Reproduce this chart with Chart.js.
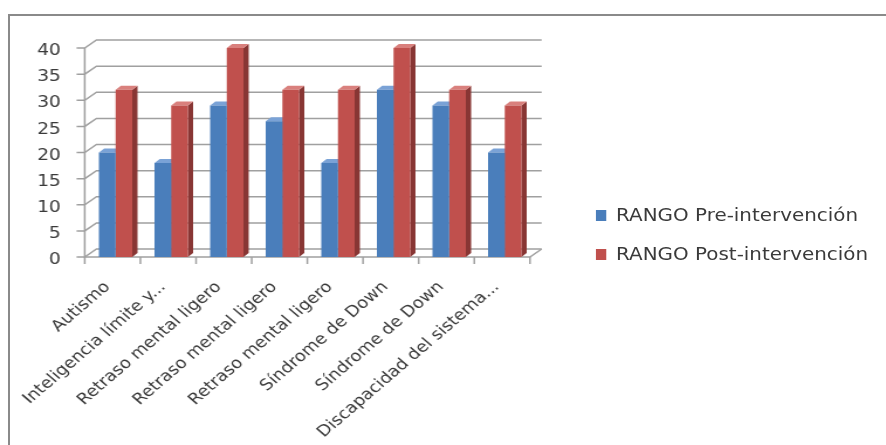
<!DOCTYPE html>
<html>
<head>
<meta charset="utf-8">
<script src="https://cdn.jsdelivr.net/npm/chart.js@4"></script>
<style>
    html, body { margin: 0; padding: 0; background: #fff; overflow: hidden; }
    body { width: 886px; height: 445px; position: relative; }
    .marco {
        position: absolute; left: 8px; top: 14px;
        width: 900px; height: 500px;
        border: 2px solid #8a8a8a;
    }
    /* the reference picture is stretched sideways, so the whole chart is too */
    .lienzo {
        position: absolute; left: 0; top: 0;
        width: 757px; height: 445px;
        transform: scaleX(1.1704); transform-origin: 0 0;
    }
    .leyenda { position: absolute; left: 509px; top: 205px; font: 17px "DejaVu Sans", sans-serif; color: #3a3a3a; }
    .leyenda-item { display: flex; align-items: center; height: 20px; margin-bottom: 19px; white-space: nowrap; }
    .leyenda-item span.caja { display: inline-block; width: 9.4px; height: 11px; margin-right: 8px; }
</style>
</head>
<body>
<div class="marco"></div>
<div class="lienzo">
    <canvas id="grafico" width="757" height="445" style="width:757px;height:445px"></canvas>
    <div class="leyenda" id="leyenda"></div>
</div>
<script>
// Datos
const categorias = ['Autismo', 'Inteligencia límite y...', 'Retraso mental ligero', 'Retraso mental ligero',
    'Retraso mental ligero', 'Síndrome de Down', 'Síndrome de Down', 'Discapacidad del sistema...'];
const preIntervencion = [20, 18, 29, 26, 18, 32, 29, 20];
const postIntervencion = [32, 29, 40, 32, 32, 40, 32, 29];
const ticksY = [0, 5, 10, 15, 20, 25, 30, 35, 40];

const colores = {
    pre: { frente: '#4a7ebb', lado: '#33598a', arriba: '#7aa2d6' },
    post: { frente: '#c0504d', lado: '#883634', arriba: '#d9807d' }
};

// Caras 3D, suelo y rejilla tipo Excel
const prof = { dx: 10, dy: 8 };
const caras3d = {
    id: 'caras3d',
    beforeDatasetsDraw(chart) {
        const ctx = chart.ctx;
        const y = chart.scales.y;
        const area = chart.chartArea;
        const ejeX = area.left - 2.6;
        const frenteDer = ejeX + 380.4;
        const fondoDer = frenteDer + prof.dx;
        ctx.save();
        ctx.strokeStyle = '#a0a0a0';
        ctx.lineWidth = 1.5;
        ticksY.forEach(v => {
            const py = y.getPixelForValue(v);
            ctx.beginPath();
            ctx.moveTo(ejeX - 7, py);
            ctx.lineTo(ejeX, py);
            ctx.lineTo(ejeX + prof.dx, py - prof.dy);
            ctx.lineTo(fondoDer, py - prof.dy);
            ctx.stroke();
        });
        const y0 = y.getPixelForValue(0);
        const yMax = y.getPixelForValue(40);
        ctx.beginPath();
        ctx.moveTo(ejeX, yMax);
        ctx.lineTo(ejeX, y0);
        ctx.lineTo(frenteDer, y0);
        ctx.lineTo(fondoDer, y0 - prof.dy);
        ctx.stroke();
        // marcas de categoria
        const paso = (frenteDer - ejeX) / categorias.length;
        for (let i = 0; i <= categorias.length; i++) {
            ctx.beginPath();
            ctx.moveTo(ejeX + i * paso, y0);
            ctx.lineTo(ejeX + i * paso, y0 + 7);
            ctx.stroke();
        }

        const d = 4.5, dv = 4;
        chart.data.datasets.forEach((ds, i) => {
            const meta = chart.getDatasetMeta(i);
            const c = i === 0 ? colores.pre : colores.post;
            meta.data.forEach(bar => {
                const p = bar.getProps(['x', 'y', 'base', 'width'], true);
                const izq = p.x - p.width / 2, der = p.x + p.width / 2;
                ctx.fillStyle = c.lado;
                ctx.beginPath();
                ctx.moveTo(der, p.y);
                ctx.lineTo(der + d, p.y - dv);
                ctx.lineTo(der + d, p.base - dv);
                ctx.lineTo(der, p.base);
                ctx.closePath();
                ctx.fill();
                ctx.fillStyle = c.arriba;
                ctx.beginPath();
                ctx.moveTo(izq, p.y);
                ctx.lineTo(izq + d, p.y - dv);
                ctx.lineTo(der + d, p.y - dv);
                ctx.lineTo(der, p.y);
                ctx.closePath();
                ctx.fill();
            });
        });
        ctx.restore();
    }
};

const grafico = new Chart(document.getElementById('grafico'), {
    type: 'bar',
    data: {
        labels: categorias,
        datasets: [{
            label: 'RANGO Pre-intervención',
            data: preIntervencion,
            backgroundColor: colores.pre.frente,
            borderWidth: 0
        }, {
            label: 'RANGO Post-intervención',
            data: postIntervencion,
            backgroundColor: colores.post.frente,
            borderWidth: 0
        }]
    },
    options: {
        responsive: false,
        animation: false,
        devicePixelRatio: 1,
        layout: { padding: { left: 0, top: 48, right: 302, bottom: 0 } },
        categoryPercentage: 0.6,
        barPercentage: 1.0,
        plugins: { legend: { display: false }, tooltip: { enabled: false } },
        scales: {
            x: {
                grid: { display: false, drawTicks: false },
                border: { display: false },
                ticks: {
                    autoSkip: false, minRotation: 45, maxRotation: 45,
                    padding: 21, labelOffset: -7,
                    color: '#3a3a3a', font: { family: 'DejaVu Sans', size: 15.5 }
                },
                afterFit(scale) { scale.height = 188; }
            },
            y: {
                min: 0, max: 40,
                grid: { display: false, drawTicks: false },
                border: { display: false },
                ticks: {
                    stepSize: 5, padding: 23, labelOffset: 3,
                    color: '#3a3a3a', font: { family: 'DejaVu Sans', size: 16 }
                },
                afterFit(scale) { scale.width = 75; }
            }
        }
    },
    plugins: [caras3d]
});

// Leyenda en HTML
const leyenda = document.getElementById('leyenda');
grafico.data.datasets.forEach(ds => {
    const item = document.createElement('div');
    item.className = 'leyenda-item';
    item.innerHTML = `<span class="caja" style="background:${ds.backgroundColor}"></span>${ds.label}`;
    leyenda.appendChild(item);
});
</script>
</body>
</html>
